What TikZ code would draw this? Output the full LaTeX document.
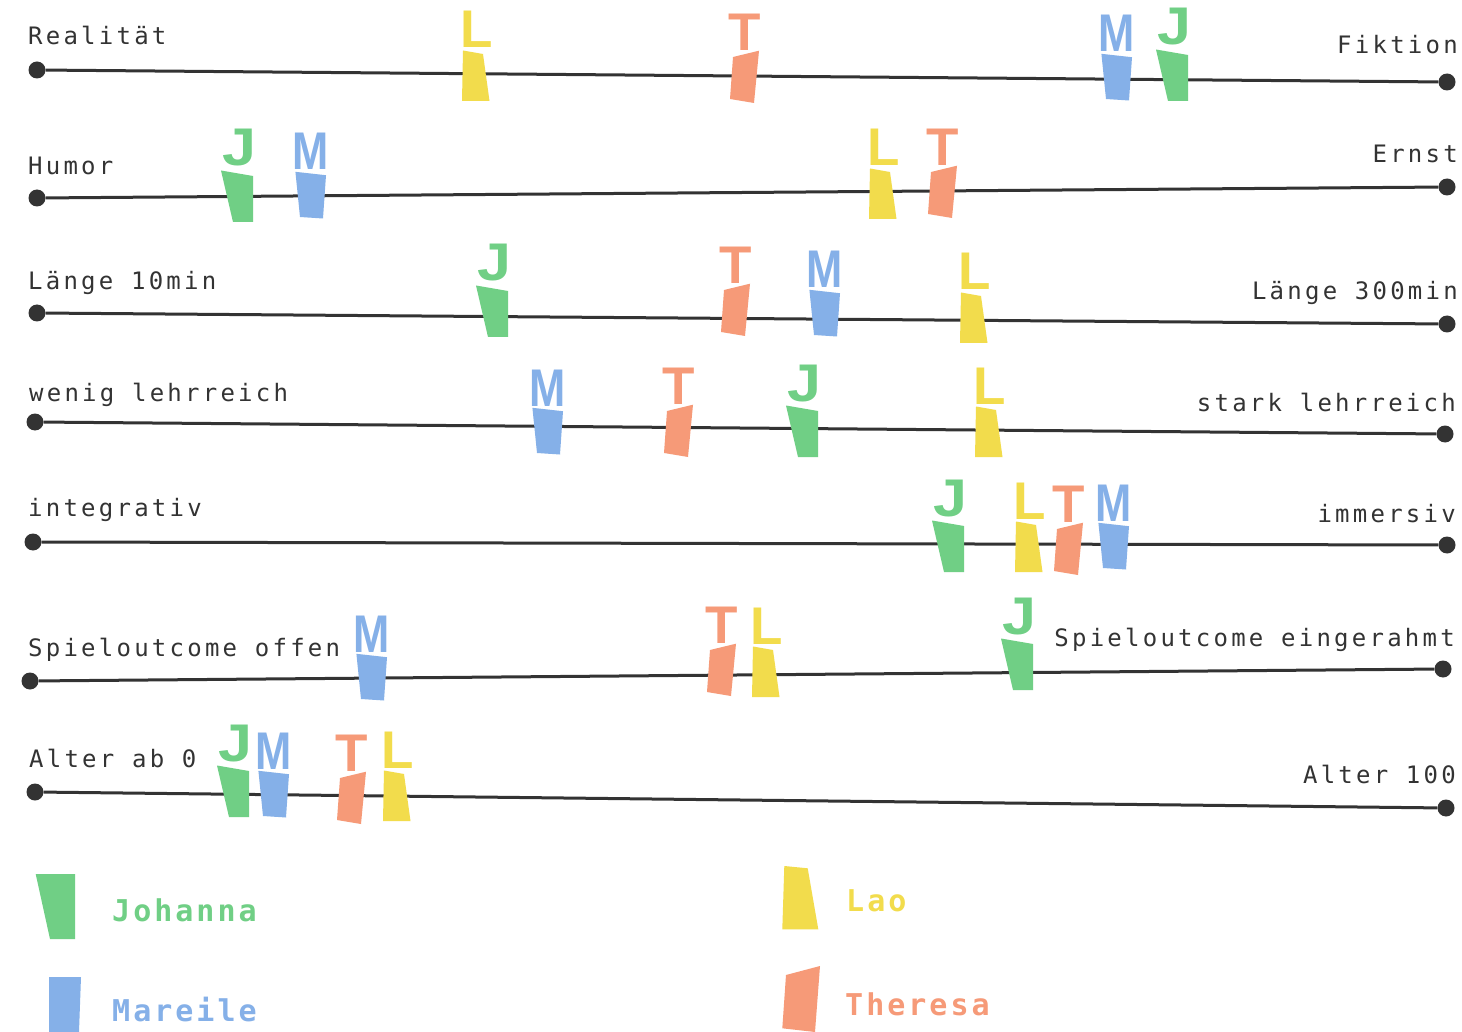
\documentclass[tikz,border=0pt]{standalone}
\usepackage{fontspec}
\newfontfamily\labelfont[LetterSpace=13.5]{DejaVu Sans Mono}
\newfontfamily\legendfont[LetterSpace=10]{DejaVu Sans Mono}
\newfontfamily\markfont{Liberation Sans}

\definecolor{cJ}{HTML}{70CF85}
\definecolor{cM}{HTML}{85B0E8}
\definecolor{cL}{HTML}{F2DC4C}
\definecolor{cT}{HTML}{F69A78}
\definecolor{ink}{HTML}{333333}

\tikzset{
  axis/.style={line width=3pt, draw=ink},
  enddot/.style={circle, fill=ink, minimum size=17pt, inner sep=0pt},
  lbl/.style={font=\labelfont\fontsize{24}{24}\selectfont, text=ink, inner sep=0pt},
  lblL/.style={lbl, anchor=base west},
  lblR/.style={lbl, anchor=base east},
  markletter/.style={font=\markfont\bfseries\fontsize{53}{53}\selectfont, inner sep=0pt, anchor=base},
  legendtext/.style={font=\legendfont\bfseries\fontsize{30}{30}\selectfont, inner sep=0pt, anchor=base west},
  % one marker per person: tag shape (origin = lower left corner) and initial
  pJ/.pic={
    \fill[cJ] (0,0) -- (20,0) -- (20,-46) -- (-12,-51.5) -- cycle;
    \node[markletter, text=cJ] at (6,-56) {\scalebox{1.15}[1]{J}};
  },
  pL/.pic={
    \fill[cL] (0,0) -- (27.5,0) -- (21,-47) -- (1,-50.5) -- cycle;
    \node[markletter, text=cL] at (15,-53) {L};
  },
  pT/.pic={
    \fill[cT] (0,0) -- (24,4) -- (29,-48.3) -- (3,-42) -- cycle;
    \node[markletter, text=cT] at (14.3,-48.5) {T};
  },
  pM/.pic={
    \fill[cM] (0,0) -- (23,1.5) -- (26,-41.8) -- (-4.6,-45.2) -- cycle;
    \node[markletter, text=cM] at (11,-47) {\scalebox{0.82}[1]{M}};
  },
}

\begin{document}
\begin{tikzpicture}[x=1pt, y=-1pt]
\useasboundingbox (0,0) rectangle (1462,1032);
\fill[white] (0,0) rectangle (1462,1032);

% axis end points
\node[enddot] (a1l) at (37,70) {};   \node[enddot] (a1r) at (1447,82) {};
\node[enddot] (a2l) at (37,198) {};  \node[enddot] (a2r) at (1447,187) {};
\node[enddot] (a3l) at (37,313) {};  \node[enddot] (a3r) at (1447,324) {};
\node[enddot] (a4l) at (35,422) {};  \node[enddot] (a4r) at (1445,434) {};
\node[enddot] (a5l) at (33,542) {};  \node[enddot] (a5r) at (1447,545) {};
\node[enddot] (a6l) at (30,681) {};  \node[enddot] (a6r) at (1443,669) {};
\node[enddot] (a7l) at (35,792) {};  \node[enddot] (a7r) at (1446,808) {};

% axes
\foreach \r in {1,...,7} { \draw[axis] (a\r l) -- (a\r r); }

% pole labels
\node[lblL] (t1l) at (28,45)  {Realität};
\node[lblR] (t1r) at (1458,54) {Fiktion};
\node[lblL] (t2l) at (28,175) {Humor};
\node[lblR] (t2r) at (1458,163) {Ernst};
\node[lblL] (t3l) at (28,290) {Länge 10min};
\node[lblR] (t3r) at (1458,300) {Länge 300min};
\node[lblL] (t4l) at (29,401) {wenig lehrreich};
\node[lblR] (t4r) at (1456,411) {stark lehrreich};
\node[lblL] (t5l) at (28,516) {integrativ};
\node[lblR] (t5r) at (1456,522) {immersiv};
\node[lblL] (t6l) at (28,656) {Spieloutcome offen};
\node[lblR] (t6r) at (1455,646) {Spieloutcome eingerahmt};
\node[lblL] (t7l) at (29,767) {Alter ab 0};
\node[lblR] (t7r) at (1456,783) {Alter 100};

% Realität -- Fiktion
\pic (r1L) at (462,101) {pL};
\pic (r1T) at (730,99) {pT};
\pic (r1M) at (1106,99) {pM};
\pic (r1J) at (1168,101) {pJ};
% Humor -- Ernst
\pic (r2J) at (233,222) {pJ};
\pic (r2M) at (300,217) {pM};
\pic (r2L) at (869,219) {pL};
\pic (r2T) at (928,214) {pT};
% Laenge
\pic (r3J) at (488,337) {pJ};
\pic (r3T) at (721,332) {pT};
\pic (r3M) at (814,335) {pM};
\pic (r3L) at (960,343) {pL};
% lehrreich
\pic (r4M) at (537,453) {pM};
\pic (r4T) at (664,453) {pT};
\pic (r4J) at (798,457) {pJ};
\pic (r4L) at (975,457) {pL};
% integrativ -- immersiv
\pic (r5J) at (944,572) {pJ};
\pic (r5L) at (1015,572) {pL};
\pic (r5T) at (1054,571) {pT};
\pic (r5M) at (1103,568) {pM};
% Spieloutcome
\pic (r6M) at (361,699) {pM};
\pic (r6T) at (707,692) {pT};
\pic (r6L) at (752,697) {pL};
\pic (r6J) at (1013,690) {pJ};
% Alter
\pic (r7J) at (229,817) {pJ};
\pic (r7M) at (263,816) {pM};
\pic (r7T) at (337,820) {pT};
\pic (r7L) at (383,821) {pL};

% legend
\fill[cJ] (35.7,874) -- (75,874) -- (75,939) -- (50,939) -- cycle;
\node[legendtext, text=cJ] (lgJ) at (112,921) {Johanna};
\fill[cM] (49,977) -- (81,977) -- (79,1032) -- (49,1032) -- cycle;
\node[legendtext, text=cM] (lgM) at (112,1021.7) {Mareile};
\fill[cL] (784.3,866) -- (807.7,868.3) -- (818.3,929.3) -- (782.3,929.3) -- cycle;
\node[legendtext, text=cL] (lgL) at (846,911.7) {Lao};
\fill[cT] (786,975) -- (820,966) -- (815,1032) -- (782.3,1028.3) -- cycle;
\node[legendtext, text=cT] (lgT) at (845,1015) {Theresa};
\end{tikzpicture}
\end{document}
